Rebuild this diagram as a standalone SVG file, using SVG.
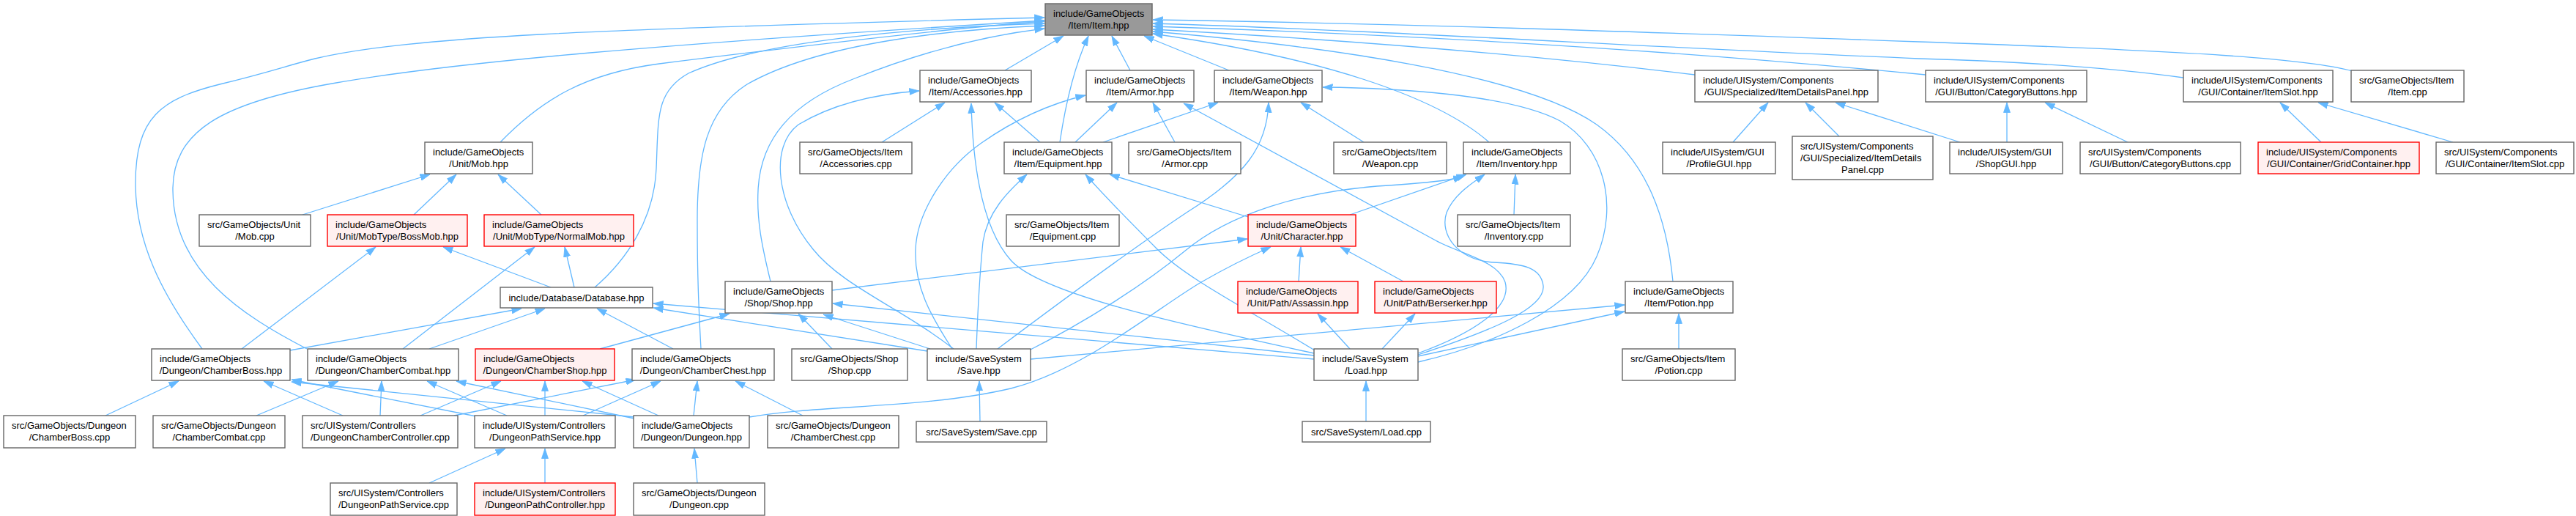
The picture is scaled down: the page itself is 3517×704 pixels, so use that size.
<svg xmlns="http://www.w3.org/2000/svg" width="3517" height="704" viewBox="0 0 3517 704">
<style>
.n rect{fill:#ffffff;stroke:#666666;stroke-width:1.4}
.r rect{fill:#FFF0F0;stroke:#FF0000;stroke-width:1.4}
.root rect{fill:#999999;stroke:#666666;stroke-width:1.4}
text{font-family:"Liberation Sans",Arial,Helvetica,sans-serif;font-size:13px;fill:#000000}
.m{text-anchor:middle}
#edges path{fill:none;stroke:#63B8FF;stroke-width:1.3;marker-end:url(#a)}
</style>
<defs>
<marker id="a" markerUnits="userSpaceOnUse" viewBox="0 0 14 10" markerWidth="14" markerHeight="10" refX="13.5" refY="5" orient="auto">
<path d="M0,0.5 L13.5,5 L0,9.5 z" fill="#63B8FF" stroke="#63B8FF" stroke-width="0.8"/>
</marker>
</defs>
<rect width="3517" height="704" fill="#ffffff"/>
<g id="edges">
<path d="M1372,96 L1452,49"/>
<path d="M1447,194 C1455,140 1467,90 1486,49"/>
<path d="M1543,96 L1518,49"/>
<path d="M1678,96 L1562,49"/>
<path d="M683,194 C740,135 800,100 900,87 C1100,62 1300,38 1426,29"/>
<path d="M276,476 C220,400 185,330 185,250 C185,160 220,135 300,115 C370,98 390,90 430,80 C560,50 800,40 1426,24"/>
<path d="M419,476 C330,430 237,370 236,260 C235,180 300,140 459,113 C620,85 900,60 1426,28"/>
<path d="M812,392 C855,355 893,300 896,230 C899,160 895,125 940,100 C1040,55 1250,38 1426,32"/>
<path d="M957,476 C954,420 952,380 952,300 C952,210 965,150 1020,115 C1120,58 1300,40 1426,35"/>
<path d="M1052,384 C1040,335 1033,300 1035,260 C1038,190 1080,140 1167,107 C1260,70 1350,48 1426,39"/>
<path d="M3212,97 C3150,80 3000,70 2620,57 C2200,42 1900,32 1574,27"/>
<path d="M2981,106 C2880,92 2760,84 2620,80 C2200,62 1900,42 1574,32"/>
<path d="M2629,102 C2300,70 1950,48 1574,36"/>
<path d="M2314,102 C2100,76 1850,55 1574,40"/>
<path d="M2284,384 C2276,300 2250,220 2180,170 C2080,100 1800,62 1574,43"/>
<path d="M2033,194 C1960,130 1800,78 1574,46"/>
<path d="M1420,194 L1358,140"/>
<path d="M1468,194 L1525,140"/>
<path d="M1506,194 L1663,140"/>
<path d="M1204,194 L1290,140"/>
<path d="M1604,194 L1574,140"/>
<path d="M1862,194 L1776,140"/>
<path d="M1794,482 C1600,440 1420,400 1380,355 C1340,310 1328,220 1326,141"/>
<path d="M1302,476 C1230,420 1150,390 1110,340 C1060,280 1050,200 1090,170 C1140,140 1200,128 1255,124"/>
<path d="M1300,476 C1270,430 1248,390 1250,340 C1252,290 1290,230 1340,195 C1390,160 1440,140 1482,130"/>
<path d="M1333,476 C1335,420 1338,370 1342,330 C1348,290 1375,262 1402,238"/>
<path d="M1362,476 C1450,410 1560,330 1620,290 C1700,240 1730,200 1732,140"/>
<path d="M1405,478 C1480,440 1560,390 1617,343 C1680,290 1780,262 1880,254 C1940,250 1975,247 1998,241"/>
<path d="M1270,476 L1124,429"/>
<path d="M1266,479 L892,420"/>
<path d="M1407,490 L2218,416"/>
<path d="M1338,575 L1337,520"/>
<path d="M1795,478 C1700,420 1620,380 1580,340 C1540,300 1510,270 1482,238"/>
<path d="M1936,482 C2010,455 2065,420 2055,385 C2045,355 1990,345 1960,328 L1616,141"/>
<path d="M1936,484 C2040,450 2110,420 2107,390 C2104,365 2080,360 2040,358 C1990,355 1965,320 1975,290 C1985,265 2010,250 2027,238"/>
<path d="M1936,494 C2040,470 2150,420 2180,350 C2210,280 2190,200 2130,165 C2060,128 1900,120 1806,119"/>
<path d="M1936,486 L2218,425"/>
<path d="M1843,476 L1799,428"/>
<path d="M1887,476 L1932,428"/>
<path d="M1794,490 L892,414"/>
<path d="M1794,485 L1137,414"/>
<path d="M1865,575 L1865,520"/>
<path d="M1704,296 L1515,238"/>
<path d="M1843,293 L2002,238"/>
<path d="M1136,396 L1703,326"/>
<path d="M1023,569 C1120,552 1260,558 1380,530 C1480,505 1580,420 1640,385 C1680,362 1705,350 1735,337"/>
<path d="M1773,384 L1776,337"/>
<path d="M1916,384 L1830,337"/>
<path d="M2067,293 L2069,238"/>
<path d="M413,293 L587,238"/>
<path d="M565,293 L623,238"/>
<path d="M739,293 L680,238"/>
<path d="M330,476 L513,337"/>
<path d="M752,392 L605,337"/>
<path d="M550,476 L730,337"/>
<path d="M784,392 L771,337"/>
<path d="M396,478 L712,421"/>
<path d="M586,476 L744,421"/>
<path d="M919,476 L815,421"/>
<path d="M819,476 L996,428"/>
<path d="M1136,476 L1090,428"/>
<path d="M144,567 L244,520"/>
<path d="M468,567 L360,520"/>
<path d="M650,568 L398,518"/>
<path d="M866,569 L398,521"/>
<path d="M350,567 L462,520"/>
<path d="M519,567 L521,520"/>
<path d="M692,567 L583,520"/>
<path d="M866,571 L623,520"/>
<path d="M574,567 L684,520"/>
<path d="M744,567 L744,520"/>
<path d="M899,567 L795,520"/>
<path d="M620,567 L868,518"/>
<path d="M796,567 L902,520"/>
<path d="M947,567 L952,520"/>
<path d="M1096,567 L1004,520"/>
<path d="M586,659 L690,612"/>
<path d="M744,659 L744,612"/>
<path d="M952,659 L948,612"/>
<path d="M2366,194 L2414,140"/>
<path d="M2511,186 L2465,140"/>
<path d="M2676,194 L2506,140"/>
<path d="M2740,194 L2740,140"/>
<path d="M2905,194 L2792,140"/>
<path d="M3169,194 L3113,140"/>
<path d="M3349,194 L3165,140"/>
<path d="M2292,476 L2292,428"/>
</g>
<g id="item_hpp" class="root"><rect x="1427" y="5" width="146" height="43"/><text x="1438" y="23">include/GameObjects</text><text class="m" x="1500" y="39">/Item/Item.hpp</text></g>
<g id="accessories_hpp" class="n"><rect x="1256" y="96" width="152" height="43"/><text x="1267" y="114">include/GameObjects</text><text class="m" x="1332" y="130">/Item/Accessories.hpp</text></g>
<g id="armor_hpp" class="n"><rect x="1483" y="96" width="147" height="43"/><text x="1494" y="114">include/GameObjects</text><text class="m" x="1556.5" y="130">/Item/Armor.hpp</text></g>
<g id="weapon_hpp" class="n"><rect x="1658" y="96" width="147" height="43"/><text x="1669" y="114">include/GameObjects</text><text class="m" x="1731.5" y="130">/Item/Weapon.hpp</text></g>
<g id="itemdetailspanel_hpp" class="n"><rect x="2314" y="96" width="250" height="43"/><text x="2325" y="114">include/UISystem/Components</text><text class="m" x="2439" y="130">/GUI/Specialized/ItemDetailsPanel.hpp</text></g>
<g id="categorybuttons_hpp" class="n"><rect x="2629" y="96" width="220" height="43"/><text x="2640" y="114">include/UISystem/Components</text><text class="m" x="2739" y="130">/GUI/Button/CategoryButtons.hpp</text></g>
<g id="itemslot_hpp" class="n"><rect x="2981" y="96" width="204" height="43"/><text x="2992" y="114">include/UISystem/Components</text><text class="m" x="3083" y="130">/GUI/Container/ItemSlot.hpp</text></g>
<g id="item_cpp" class="n"><rect x="3210" y="96" width="154" height="43"/><text x="3221" y="114">src/GameObjects/Item</text><text class="m" x="3287" y="130">/Item.cpp</text></g>
<g id="mob_hpp" class="n"><rect x="580" y="194" width="147" height="43"/><text x="591" y="212">include/GameObjects</text><text class="m" x="653.5" y="228">/Unit/Mob.hpp</text></g>
<g id="accessories_cpp" class="n"><rect x="1092" y="194" width="153" height="43"/><text x="1103" y="212">src/GameObjects/Item</text><text class="m" x="1168.5" y="228">/Accessories.cpp</text></g>
<g id="equipment_hpp" class="n"><rect x="1371" y="194" width="147" height="43"/><text x="1382" y="212">include/GameObjects</text><text class="m" x="1444.5" y="228">/Item/Equipment.hpp</text></g>
<g id="armor_cpp" class="n"><rect x="1541" y="194" width="153" height="43"/><text x="1552" y="212">src/GameObjects/Item</text><text class="m" x="1617.5" y="228">/Armor.cpp</text></g>
<g id="weapon_cpp" class="n"><rect x="1821" y="194" width="154" height="43"/><text x="1832" y="212">src/GameObjects/Item</text><text class="m" x="1898" y="228">/Weapon.cpp</text></g>
<g id="inventory_hpp" class="n"><rect x="1998" y="194" width="146" height="43"/><text x="2009" y="212">include/GameObjects</text><text class="m" x="2071" y="228">/Item/Inventory.hpp</text></g>
<g id="profilegui_hpp" class="n"><rect x="2270" y="194" width="154" height="43"/><text x="2281" y="212">include/UISystem/GUI</text><text class="m" x="2347" y="228">/ProfileGUI.hpp</text></g>
<g id="itemdetailspanel_cpp" class="n"><rect x="2447" y="186" width="192" height="59"/><text x="2458" y="204">src/UISystem/Components</text><text x="2458" y="220">/GUI/Specialized/ItemDetails</text><text class="m" x="2543" y="236">Panel.cpp</text></g>
<g id="shopgui_hpp" class="n"><rect x="2662" y="194" width="154" height="43"/><text x="2673" y="212">include/UISystem/GUI</text><text class="m" x="2739" y="228">/ShopGUI.hpp</text></g>
<g id="categorybuttons_cpp" class="n"><rect x="2840" y="194" width="219" height="43"/><text x="2851" y="212">src/UISystem/Components</text><text class="m" x="2949.5" y="228">/GUI/Button/CategoryButtons.cpp</text></g>
<g id="gridcontainer_hpp" class="r"><rect x="3083" y="194" width="220" height="43"/><text x="3094" y="212">include/UISystem/Components</text><text class="m" x="3193" y="228">/GUI/Container/GridContainer.hpp</text></g>
<g id="itemslot_cpp" class="n"><rect x="3326" y="194" width="188" height="43"/><text x="3337" y="212">src/UISystem/Components</text><text class="m" x="3420" y="228">/GUI/Container/ItemSlot.cpp</text></g>
<g id="mob_cpp" class="n"><rect x="272" y="293" width="152" height="43"/><text x="283" y="311">src/GameObjects/Unit</text><text class="m" x="348" y="327">/Mob.cpp</text></g>
<g id="bossmob_hpp" class="r"><rect x="447" y="293" width="191" height="43"/><text x="458" y="311">include/GameObjects</text><text class="m" x="542.5" y="327">/Unit/MobType/BossMob.hpp</text></g>
<g id="normalmob_hpp" class="r"><rect x="661" y="293" width="204" height="43"/><text x="672" y="311">include/GameObjects</text><text class="m" x="763" y="327">/Unit/MobType/NormalMob.hpp</text></g>
<g id="equipment_cpp" class="n"><rect x="1374" y="293" width="154" height="43"/><text x="1385" y="311">src/GameObjects/Item</text><text class="m" x="1451" y="327">/Equipment.cpp</text></g>
<g id="character_hpp" class="r"><rect x="1704" y="293" width="147" height="43"/><text x="1715" y="311">include/GameObjects</text><text class="m" x="1777.5" y="327">/Unit/Character.hpp</text></g>
<g id="inventory_cpp" class="n"><rect x="1990" y="293" width="154" height="43"/><text x="2001" y="311">src/GameObjects/Item</text><text class="m" x="2067" y="327">/Inventory.cpp</text></g>
<g id="database_hpp" class="n"><rect x="683" y="392" width="208" height="28"/><text class="m" x="787" y="411">include/Database/Database.hpp</text></g>
<g id="shop_hpp" class="n"><rect x="990" y="384" width="146" height="43"/><text x="1001" y="402">include/GameObjects</text><text class="m" x="1063" y="418">/Shop/Shop.hpp</text></g>
<g id="assassin_hpp" class="r"><rect x="1690" y="384" width="164" height="43"/><text x="1701" y="402">include/GameObjects</text><text class="m" x="1772" y="418">/Unit/Path/Assassin.hpp</text></g>
<g id="berserker_hpp" class="r"><rect x="1877" y="384" width="166" height="43"/><text x="1888" y="402">include/GameObjects</text><text class="m" x="1960" y="418">/Unit/Path/Berserker.hpp</text></g>
<g id="potion_hpp" class="n"><rect x="2219" y="384" width="147" height="43"/><text x="2230" y="402">include/GameObjects</text><text class="m" x="2292.5" y="418">/Item/Potion.hpp</text></g>
<g id="chamberboss_hpp" class="n"><rect x="207" y="476" width="189" height="43"/><text x="218" y="494">include/GameObjects</text><text class="m" x="301.5" y="510">/Dungeon/ChamberBoss.hpp</text></g>
<g id="chambercombat_hpp" class="n"><rect x="420" y="476" width="206" height="43"/><text x="431" y="494">include/GameObjects</text><text class="m" x="523" y="510">/Dungeon/ChamberCombat.hpp</text></g>
<g id="chambershop_hpp" class="r"><rect x="649" y="476" width="190" height="43"/><text x="660" y="494">include/GameObjects</text><text class="m" x="744" y="510">/Dungeon/ChamberShop.hpp</text></g>
<g id="chamberchest_hpp" class="n"><rect x="863" y="476" width="194" height="43"/><text x="874" y="494">include/GameObjects</text><text class="m" x="960" y="510">/Dungeon/ChamberChest.hpp</text></g>
<g id="shop_cpp" class="n"><rect x="1081" y="476" width="158" height="43"/><text x="1092" y="494">src/GameObjects/Shop</text><text class="m" x="1160" y="510">/Shop.cpp</text></g>
<g id="save_hpp" class="n"><rect x="1266" y="476" width="141" height="43"/><text x="1277" y="494">include/SaveSystem</text><text class="m" x="1336.5" y="510">/Save.hpp</text></g>
<g id="load_hpp" class="n"><rect x="1794" y="476" width="142" height="43"/><text x="1805" y="494">include/SaveSystem</text><text class="m" x="1865" y="510">/Load.hpp</text></g>
<g id="potion_cpp" class="n"><rect x="2215" y="476" width="154" height="43"/><text x="2226" y="494">src/GameObjects/Item</text><text class="m" x="2292" y="510">/Potion.cpp</text></g>
<g id="chamberboss_cpp" class="n"><rect x="5" y="567" width="180" height="44"/><text x="16" y="585">src/GameObjects/Dungeon</text><text class="m" x="95" y="601">/ChamberBoss.cpp</text></g>
<g id="chambercombat_cpp" class="n"><rect x="209" y="567" width="180" height="44"/><text x="220" y="585">src/GameObjects/Dungeon</text><text class="m" x="299" y="601">/ChamberCombat.cpp</text></g>
<g id="dungeonchambercontroller_cpp" class="n"><rect x="413" y="567" width="212" height="44"/><text x="424" y="585">src/UISystem/Controllers</text><text class="m" x="519" y="601">/DungeonChamberController.cpp</text></g>
<g id="dungeonpathservice_hpp" class="n"><rect x="648" y="567" width="192" height="44"/><text x="659" y="585">include/UISystem/Controllers</text><text class="m" x="744" y="601">/DungeonPathService.hpp</text></g>
<g id="dungeon_hpp" class="n"><rect x="865" y="567" width="158" height="44"/><text x="876" y="585">include/GameObjects</text><text class="m" x="944" y="601">/Dungeon/Dungeon.hpp</text></g>
<g id="chamberchest_cpp" class="n"><rect x="1048" y="567" width="179" height="44"/><text x="1059" y="585">src/GameObjects/Dungeon</text><text class="m" x="1137.5" y="601">/ChamberChest.cpp</text></g>
<g id="save_cpp" class="n"><rect x="1251" y="575" width="178" height="28"/><text class="m" x="1340" y="594">src/SaveSystem/Save.cpp</text></g>
<g id="load_cpp" class="n"><rect x="1778" y="575" width="175" height="28"/><text class="m" x="1865.5" y="594">src/SaveSystem/Load.cpp</text></g>
<g id="dungeonpathservice_cpp" class="n"><rect x="451" y="659" width="173" height="44"/><text x="462" y="677">src/UISystem/Controllers</text><text class="m" x="537.5" y="693">/DungeonPathService.cpp</text></g>
<g id="dungeonpathcontroller_hpp" class="r"><rect x="648" y="659" width="192" height="44"/><text x="659" y="677">include/UISystem/Controllers</text><text class="m" x="744" y="693">/DungeonPathController.hpp</text></g>
<g id="dungeon_cpp" class="n"><rect x="865" y="659" width="179" height="44"/><text x="876" y="677">src/GameObjects/Dungeon</text><text class="m" x="954.5" y="693">/Dungeon.cpp</text></g>
</svg>
